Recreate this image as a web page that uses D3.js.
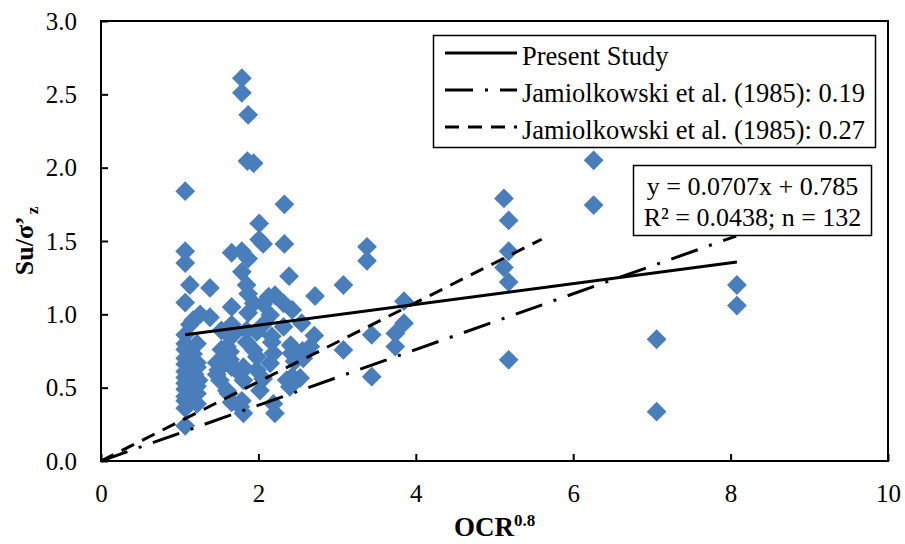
<!DOCTYPE html>
<html>
<head>
<meta charset="utf-8">
<script src="https://cdn.jsdelivr.net/npm/d3@7"></script>
<style>
  html, body { margin: 0; padding: 0; background: #fff; }
  svg { display: block; }
  svg text { font-family: "Liberation Serif", "Times New Roman", serif; }
</style>
</head>
<body>
<svg id="chart" width="905" height="544"></svg>
<script>
// OCR^0.8 values of the measurements
const ocr = [
  1.07, 1.07, 1.07, 1.07, 1.07, 1.07, 1.07, 1.07, 1.07, 1.07, 1.07, 1.07, 1.07, 1.07, 1.07, 1.07, 1.07,
  1.13, 1.13, 1.17, 1.17, 1.19,
  1.22, 1.22, 1.22, 1.22, 1.22, 1.22, 1.24, 1.26,
  1.385, 1.385,
  1.53, 1.53, 1.47, 1.47, 1.49, 1.51, 1.60, 1.60, 1.60,
  1.62, 1.64, 1.64, 1.66, 1.66, 1.66, 1.66, 1.66, 1.68, 1.72,
  1.79, 1.79, 1.87, 1.86, 1.94, 1.79, 1.87, 1.79, 1.85, 1.87, 1.87, 1.85, 1.85, 1.81, 1.79, 1.81, 1.79, 1.77, 1.81,
  2.01, 2.01, 2.06, 2.06, 1.94, 1.98, 1.98, 1.98, 1.94, 2.06, 2.06, 2.02,
  2.13, 2.21, 2.15, 2.17, 2.17, 2.19, 2.15, 2.19, 2.21,
  2.33, 2.33, 2.39, 2.32, 2.43, 2.32, 2.41, 2.42, 2.46, 2.43, 2.36, 2.40,
  2.55, 2.56, 2.57, 2.53, 2.66, 2.71, 2.72,
  3.08, 3.08, 3.38, 3.38, 3.44, 3.44, 3.74, 3.74, 3.85, 3.85,
  5.12, 5.18, 5.18, 5.12, 5.18, 5.18, 6.26, 6.26, 7.06, 7.06, 8.08, 8.08
];
// Su/σ'z values, same order
const suRatio = [
  1.84, 1.43, 1.35, 1.08, 0.86, 0.80, 0.76, 0.70, 0.66, 0.61, 0.57, 0.53, 0.49, 0.44, 0.41, 0.36, 0.24,
  1.20, 0.93, 0.96, 0.73, 0.59,
  0.80, 0.67, 0.64, 0.51, 0.46, 0.39, 0.55, 1.00,
  1.18, 0.98,
  0.89, 0.76, 0.67, 0.59, 0.62, 0.55, 0.87, 0.78, 0.48,
  0.46, 0.69, 0.745, 0.64, 0.93, 1.05, 1.42, 0.40, 0.86, 0.62,
  2.61, 2.51, 2.36, 2.045, 2.03, 1.43, 1.38, 1.29, 1.20, 1.14, 1.01, 0.89, 0.81, 0.64, 0.61, 0.55, 0.41, 0.37, 0.325,
  1.62, 1.51, 1.48, 1.07, 1.075, 0.88, 0.71, 0.62, 0.757, 0.93, 0.56, 0.48,
  1.12, 1.13, 0.995, 0.85, 0.81, 0.734, 0.666, 0.39, 0.325,
  1.75, 1.48, 1.26, 1.075, 1.03, 0.915, 0.79, 0.734, 0.68, 0.575, 0.552, 0.506,
  0.94, 0.75, 0.70, 0.566, 0.78, 0.855, 1.125,
  1.20, 0.757, 1.46, 1.365, 0.86, 0.575, 0.87, 0.78, 1.09, 0.94,
  1.79, 1.64, 1.43, 1.32, 1.22, 0.69, 2.05, 1.745, 0.83, 0.336, 1.20, 1.06
];

// Linear fit of the present study
const fitSlope = 0.0707;
const fitIntercept = 0.785;
const fitR2 = 0.0438;

// Jamiolkowski et al. (1985) ratios and the x extent of each reference line
const jamRatios = [0.19, 0.27];
const jamXEnd = [8.07, 5.6];

const xTicks = [0, 2, 4, 6, 8, 10];
const yTicks = [0, 0.5, 1.0, 1.5, 2.0, 2.5, 3.0];

const legendLabels = [
  "Present Study",
  "Jamiolkowski et al. (1985): 0.19",
  "Jamiolkowski et al. (1985): 0.27"
];

const points = ocr.map((v, i) => ({ x: v, y: suRatio[i] }));

const serif = '"Liberation Serif", "Times New Roman", serif';
const svg = d3.select("#chart").attr("font-family", serif);
const plot = { left: 101, right: 888, top: 21, bottom: 461 };

const x = d3.scaleLinear().domain([0, 10]).range([plot.left, plot.right]);
const y = d3.scaleLinear().domain([0, 3]).range([plot.bottom, plot.top]);

const marker = "#4a7ebb";
const dashStyles = {
  solid: null,
  dashDot: "28,12,3,12",
  dashed: "14,9"
};

// Axes with inward ticks
const xAxis = d3.axisBottom(x).tickValues(xTicks).tickFormat(d3.format("d"))
  .tickSizeInner(-7).tickSizeOuter(0);
const yAxis = d3.axisLeft(y).tickValues(yTicks).tickFormat(d3.format(".1f"))
  .tickSizeInner(-7).tickSizeOuter(0).tickPadding(24);

const gx = svg.append("g").attr("transform", `translate(0,${plot.bottom})`).call(xAxis);
gx.selectAll("text").attr("y", 41).attr("dy", 0);
const gy = svg.append("g").attr("transform", `translate(${plot.left},0)`).call(yAxis);

[gx, gy].forEach(g => {
  g.attr("font-family", serif).attr("font-size", 25);
  g.select(".domain").remove();
  g.selectAll("line").attr("stroke", "#000").attr("stroke-width", 2);
  g.selectAll("text").attr("fill", "#000");
});

// Plot area frame
svg.append("rect")
  .attr("x", plot.left).attr("y", plot.top)
  .attr("width", plot.right - plot.left).attr("height", plot.bottom - plot.top)
  .attr("fill", "none").attr("stroke", "#000").attr("stroke-width", 2);

// Diamond markers
const diamond = {
  draw(ctx, size) {
    const r = Math.sqrt(size / 2);
    ctx.moveTo(0, -r);
    ctx.lineTo(r, 0);
    ctx.lineTo(0, r);
    ctx.lineTo(-r, 0);
    ctx.closePath();
  }
};
svg.append("g").selectAll("path")
  .data(points)
  .join("path")
  .attr("d", d3.symbol().type(diamond).size(196))
  .attr("transform", d => `translate(${x(d.x)},${y(d.y)})`)
  .attr("fill", marker);

// Lines
const line = d3.line().x(d => x(d[0])).y(d => y(d[1]));
const xExtent = d3.extent(ocr);
const fitPts = xExtent.map(v => [v, fitSlope * v + fitIntercept]);

const lines = [
  { pts: fitPts, dash: dashStyles.solid },
  { pts: [[0, 0], [jamXEnd[0], jamRatios[0] * jamXEnd[0]]], dash: dashStyles.dashDot },
  { pts: [[0, 0], [jamXEnd[1], jamRatios[1] * jamXEnd[1]]], dash: dashStyles.dashed }
];

svg.append("g").selectAll("path")
  .data(lines)
  .join("path")
  .attr("d", d => line(d.pts))
  .attr("fill", "none")
  .attr("stroke", "#000")
  .attr("stroke-width", 3)
  .attr("stroke-dasharray", d => d.dash);

// Legend
const legend = svg.append("g");
legend.append("rect")
  .attr("x", 433.5).attr("y", 35.5).attr("width", 442).attr("height", 112)
  .attr("fill", "#fff").attr("stroke", "#000").attr("stroke-width", 1.5);

const rowY = [53, 90, 127];
legendLabels.forEach((label, i) => {
  legend.append("line")
    .attr("x1", 445).attr("x2", 517)
    .attr("y1", rowY[i]).attr("y2", rowY[i])
    .attr("stroke", "#000").attr("stroke-width", 3)
    .attr("stroke-dasharray", lines[i].dash);
  legend.append("text")
    .attr("x", 522).attr("y", rowY[i] + 12)
    .attr("font-size", 26.5)
    .attr("fill", "#000")
    .text(label);
});

// Regression label
const eq = svg.append("g");
eq.append("rect")
  .attr("x", 633.5).attr("y", 165.5).attr("width", 238).attr("height", 70)
  .attr("fill", "#fff").attr("stroke", "#000").attr("stroke-width", 1.5);
eq.append("text")
  .attr("x", 752.5).attr("y", 195)
  .attr("text-anchor", "middle")
  .attr("font-size", 26)
  .text(`y = ${fitSlope}x + ${fitIntercept}`);
eq.append("text")
  .attr("x", 752.5).attr("y", 226)
  .attr("text-anchor", "middle")
  .attr("font-size", 26)
  .text(`R² = ${fitR2}; n = ${points.length}`);

// Axis titles
const xTitle = svg.append("text")
  .attr("x", (plot.left + plot.right) / 2).attr("y", 536)
  .attr("text-anchor", "middle")
  .attr("font-weight", "bold")
  .attr("font-size", 27);
xTitle.append("tspan").text("OCR");
xTitle.append("tspan").attr("dy", -10).attr("font-size", 17).text("0.8");

const yTitle = svg.append("text")
  .attr("transform", `translate(33,${(plot.top + plot.bottom) / 2}) rotate(-90)`)
  .attr("text-anchor", "middle")
  .attr("font-weight", "bold")
  .attr("font-size", 26);
yTitle.append("tspan").text("Su/σ’");
yTitle.append("tspan").attr("dy", 5).attr("dx", 2).attr("font-size", 17).text("z");
</script>
</body>
</html>
